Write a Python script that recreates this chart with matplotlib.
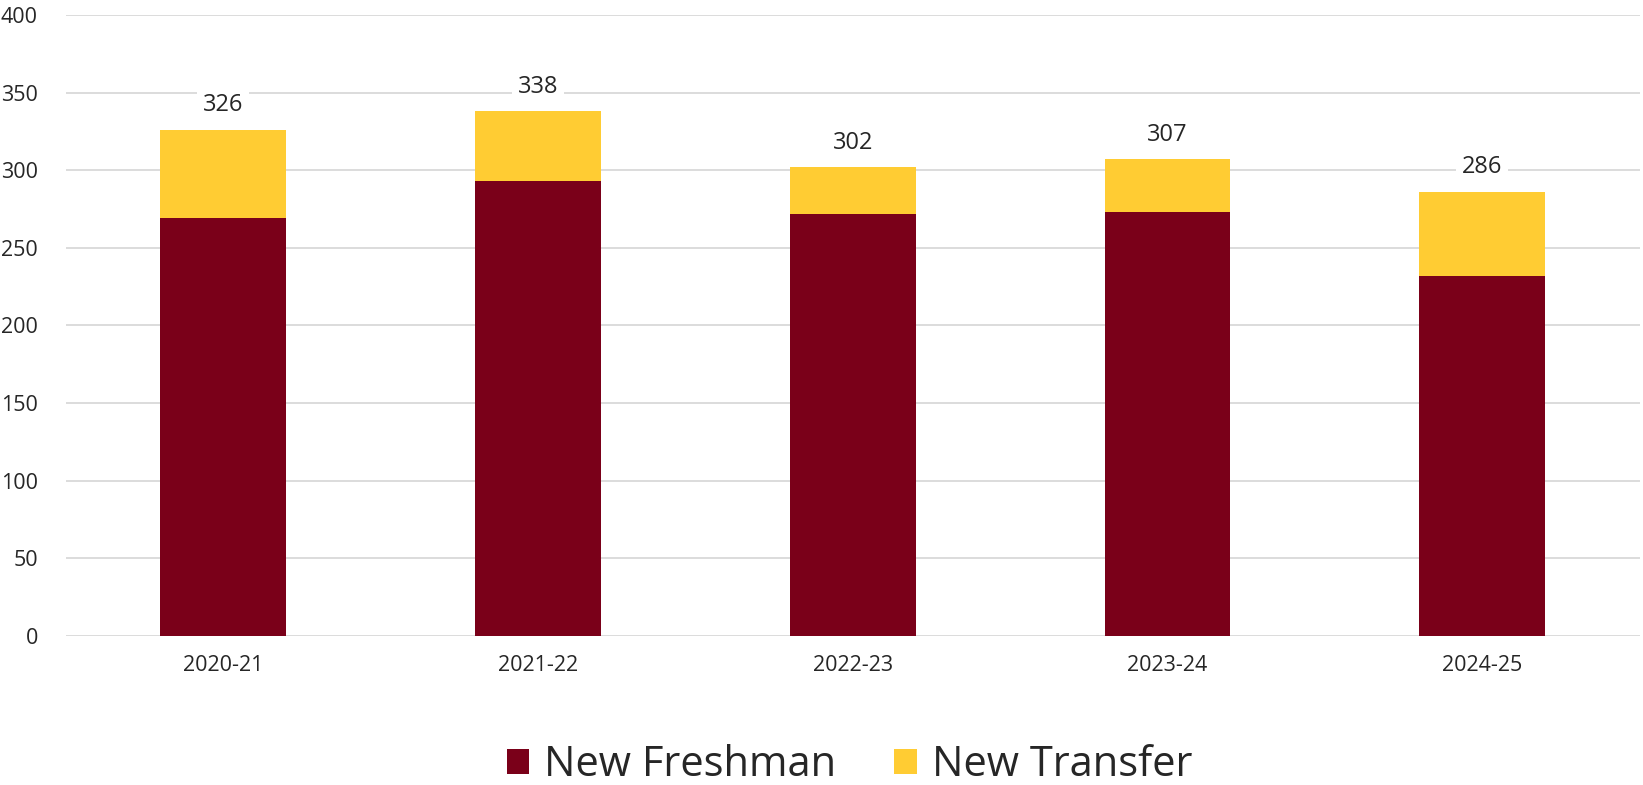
import matplotlib
matplotlib.use("Agg")
import matplotlib.pyplot as plt
import numpy as np

plt.rcParams["font.family"] = ["Open Sans", "DejaVu Sans"]

years = ["2020-21", "2021-22", "2022-23", "2023-24", "2024-25"]
freshman = [269, 293, 272, 273, 232]
transfer = [57, 45, 30, 34, 54]
totals = [326, 338, 302, 307, 286]

MAROON = "#7A0019"
GOLD = "#FFCC33"
TEXT = "#262626"

fig = plt.figure(figsize=(16.43, 7.85), dpi=100)
ax = fig.add_axes([0.04, 0.19, 0.958, 0.791])

x = np.arange(len(years))
ax.bar(x, freshman, width=0.4, color=MAROON, label="New Freshman", zorder=2)
ax.bar(x, transfer, width=0.4, bottom=freshman, color=GOLD,
       label="New Transfer", zorder=2)

for xi, tot in zip(x, totals):
    ax.annotate(str(tot), (xi, tot), xytext=(0, 9), textcoords="offset points",
                ha="center", va="bottom", fontsize=17, color=TEXT, zorder=3,
                bbox=dict(boxstyle="square,pad=0.25", fc="white", ec="none"))

ax.set_xlim(-0.5, len(years) - 0.5)
ax.set_ylim(0, 400)
ax.set_yticks(range(0, 401, 50))
ax.set_xticks(x)
ax.set_xticklabels(years)
ax.tick_params(axis="both", length=0, labelsize=15.5, colors=TEXT)
ax.tick_params(axis="y", pad=20)
ax.tick_params(axis="x", pad=14)
ax.grid(axis="y", color="#d9d9d9", linewidth=1.3, zorder=0)
ax.set_axisbelow(True)
for s in ax.spines.values():
    s.set_visible(False)

fig.legend(loc="center", bbox_to_anchor=(0.517, 0.025), ncol=2, frameon=False,
           fontsize=30, handlelength=0.55, handleheight=0.55, handletextpad=0.35,
           columnspacing=1.4, labelcolor=TEXT)

fig.savefig("out.png", dpi=100, facecolor="white")
